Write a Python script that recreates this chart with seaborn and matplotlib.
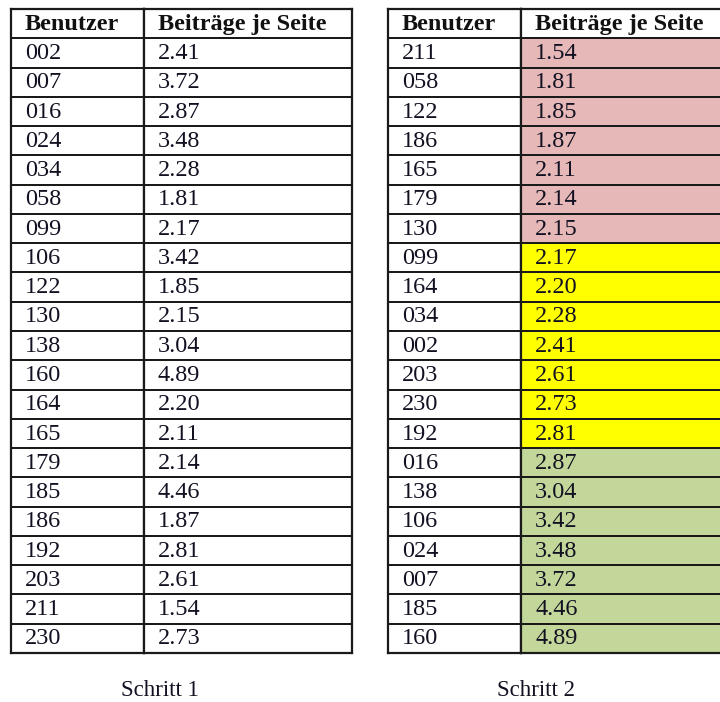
import numpy as np
import pandas as pd
import matplotlib
matplotlib.use("Agg")
import matplotlib.pyplot as plt
from matplotlib.colors import ListedColormap
import seaborn as sns

sns.set_theme(style="white")
plt.rcParams["font.family"] = ["Liberation Serif", "DejaVu Serif"]

# Schritt 1: unsortiert
benutzer_1 = ["002", "007", "016", "024", "034", "058", "099", "106", "122", "130", "138",
              "160", "164", "165", "179", "185", "186", "192", "203", "211", "230"]
beitraege_1 = [2.41, 3.72, 2.87, 3.48, 2.28, 1.81, 2.17, 3.42, 1.85, 2.15, 3.04,
               4.89, 2.20, 2.11, 2.14, 4.46, 1.87, 2.81, 2.61, 1.54, 2.73]

# Schritt 2: sortiert und gruppiert
benutzer_2 = ["211", "058", "122", "186", "165", "179", "130", "099", "164", "034", "002",
              "203", "230", "192", "016", "138", "106", "024", "007", "185", "160"]
beitraege_2 = [1.54, 1.81, 1.85, 1.87, 2.11, 2.14, 2.15, 2.17, 2.20, 2.28, 2.41,
               2.61, 2.73, 2.81, 2.87, 3.04, 3.42, 3.48, 3.72, 4.46, 4.89]
gruppe_2 = [1] * 7 + [2] * 7 + [3] * 7   # 1 = rot, 2 = gelb, 3 = gruen

spalten = ["Benutzer", "Beiträge je Seite"]
farben = ListedColormap(["#ffffff", "#e6b8b7", "#ffff00", "#c4d79b"])

W, H = 720, 702
fig = plt.figure(figsize=(W / 100, H / 100), dpi=100)

top, bottom = 9, 653


def spalte(x0, x1, kopf, texte, codes, fs=17.5):
    ax = fig.add_axes([x0 / W, 1 - bottom / H, (x1 - x0) / W, (bottom - top) / H])
    df = pd.DataFrame({"c": [0] + list(codes)})
    sns.heatmap(df, ax=ax, cmap=farben, vmin=-0.5, vmax=3.5, cbar=False,
                linewidths=1.4, linecolor="#1a1a1a", xticklabels=False, yticklabels=False)
    for sp in ax.spines.values():
        sp.set_visible(True)
        sp.set_color("#1a1a1a")
        sp.set_linewidth(1.6)
    pad = 14 / (x1 - x0)
    ax.text(pad, 0.52, kopf, ha="left", va="center", fontsize=fs, fontweight="bold",
            color="#111111")
    for i, t in enumerate(texte):
        ax.text(pad, i + 1.52, t, ha="left", va="center", fontsize=fs, color="#111122")
    return ax


spalte(11, 144, spalten[0], benutzer_1, [0] * len(benutzer_1))
spalte(144, 352, spalten[1], [f"{v:.2f}" for v in beitraege_1], [0] * len(beitraege_1))
spalte(388, 521, spalten[0], benutzer_2, [0] * len(benutzer_2))
spalte(521, 729, spalten[1], [f"{v:.2f}" for v in beitraege_2], gruppe_2)

fig.text(160 / W, 1 - 690 / H, "Schritt 1", ha="center", va="center", fontsize=16.5, color="#111122")
fig.text(536 / W, 1 - 690 / H, "Schritt 2", ha="center", va="center", fontsize=16.5, color="#111122")

fig.savefig("out.png", dpi=100, facecolor="white")
